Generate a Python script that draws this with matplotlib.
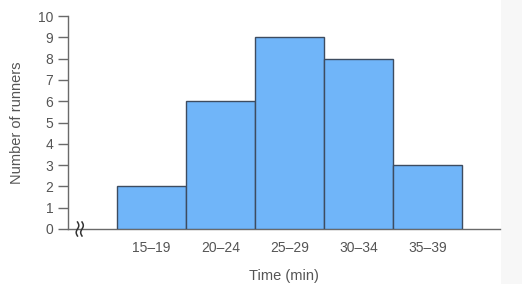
import matplotlib
matplotlib.use("Agg")
import matplotlib.pyplot as plt
from matplotlib.lines import Line2D
import numpy as np

categories = ["15–19", "20–24", "25–29", "30–34", "35–39"]
counts = [2, 6, 9, 8, 3]
yticks = list(range(0, 11))

plt.rcParams['font.family'] = ['Liberation Sans', 'DejaVu Sans']

W, H = 522, 284
fig = plt.figure(figsize=(W / 100, H / 100), dpi=100)
fig.patch.set_facecolor("white")
# gray strip on right
fig.add_artist(plt.Rectangle((501 / W, 0), 1, 1, transform=fig.transFigure,
                             facecolor="#f7f7f7", edgecolor="none", zorder=-5))

ax = fig.add_axes([68 / W, (H - 229) / H, (500 - 68) / W, (229 - 16) / H])
x = np.arange(1, len(categories) + 1)
ax.bar(x, counts, width=1.0, color="#70b5f9", edgecolor="#3d4c60", linewidth=1.0, zorder=3)
ax.set_xlim(-0.21, 6.05)
ax.set_ylim(0, 10)
ax.set_yticks(yticks)
ax.set_xticks(x)
ax.set_xticklabels(categories)
for s in ["top", "right"]:
    ax.spines[s].set_visible(False)
for s in ["left", "bottom"]:
    ax.spines[s].set_color("#6a6a6a")
    ax.spines[s].set_linewidth(1.0)
ax.tick_params(axis="y", direction="out", length=7.2, width=1.0, color="#6a6a6a",
               labelsize=10, labelcolor="#555555", pad=3.5)
ax.tick_params(axis="x", length=0, labelsize=10, labelcolor="#555555", pad=8.5)
ax.set_ylabel("Number of runners", fontsize=10.5, color="#555555", labelpad=10)
ax.set_xlabel("Time (min)", fontsize=10.5, color="#555555", labelpad=10)

# axis break marks (two small wavy lines)
t = np.linspace(0, 1, 30)
for x0 in [77.5, 82.0]:
    xs = x0 + 1.3 * np.sin(t * 2 * np.pi)
    ys = 229 - 7 + 14 * t
    xs_f = xs / W
    ys_f = (H - ys) / H
    fig.add_artist(Line2D(xs_f, ys_f, transform=fig.transFigure, color="#333333", lw=1.1))

fig.savefig("out.png", dpi=100, facecolor=fig.get_facecolor())
